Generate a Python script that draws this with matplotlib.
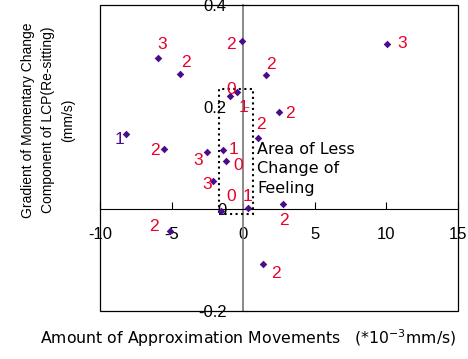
import matplotlib
matplotlib.use('Agg')
import matplotlib.pyplot as plt
from matplotlib.patches import Rectangle

plt.rcParams['font.family'] = ['Liberation Sans', 'DejaVu Sans']

# approximation movements (*10^-3 mm/s) and gradient (mm/s)
move_x = [-0.07, 10.01, -5.98, -4.43, 1.56, -0.89, -0.42, 2.53, 1.00, -8.15,
          -5.54, -2.56, -1.40, -1.21, -2.14, -1.52, 0.32, 2.79, -5.12, 1.37]
grad_y = [0.330, 0.324, 0.296, 0.265, 0.262, 0.221, 0.229, 0.191, 0.140, 0.148,
          0.118, 0.112, 0.116, 0.094, 0.054, -0.003, 0.002, 0.009, -0.043, -0.108]
change_level = ['2', '3', '3', '2', '2', '0', '1', '2', '2', '1',
                '2', '3', '1', '0', '3', '0', '1', '2', '2', '2']

# where each number sits relative to its point (pixels) and its colour
label_offsets = [(-11, -4), (16, 0), (5, 14), (6, 11), (5, 11), (1, 7), (6, -15),
                 (11, -2), (3, 13), (-7, -6), (-9, -2), (-8, -9), (10, 0), (12, -4),
                 (-5, -3), (10, 14), (0, 11), (1, -16), (-16, 4), (13, -9)]
label_colors = ['#E8002A'] * 20
label_colors[9] = '#4B0C8C'

xticks = [-10, -5, 0, 5, 10, 15]
yticks = [-0.2, 0, 0.2, 0.4]

fig = plt.figure(figsize=(4.68, 3.59), dpi=100)
ax = fig.add_axes([100 / 468, 48 / 359, 358 / 468, 306 / 359])

ax.scatter(move_x, grad_y, marker='D', s=15, color='#4B0C8C', zorder=5, linewidths=0)

for x, y, t, (dx, dy), c in zip(move_x, grad_y, change_level, label_offsets, label_colors):
    ax.annotate(t, (x, y), xytext=(dx, dy), textcoords='offset pixels',
                ha='center', va='center', fontsize=12.5, color=c, zorder=6)

ax.set_xlim(-10, 15)
ax.set_ylim(-0.2, 0.4)
ax.set_xticks(xticks)
ax.set_yticks(yticks)
ax.set_xticklabels([str(v) for v in xticks])
ax.set_yticklabels(['-0.2', '0', '0.2', '0.4'])

# axes crossing at the origin, plus an outer frame
ax.spines['left'].set_position(('data', 0))
ax.spines['bottom'].set_position(('data', 0))
ax.spines['left'].set_color('#808080')
ax.spines['left'].set_linewidth(1.3)
ax.spines['bottom'].set_color('black')
ax.spines['bottom'].set_linewidth(0.8)
ax.spines['top'].set_visible(False)
ax.spines['right'].set_visible(False)
ax.add_patch(Rectangle((0, 0), 1, 1, transform=ax.transAxes, fill=False,
                       edgecolor='black', linewidth=0.9, clip_on=False, zorder=4))

ax.tick_params(axis='x', direction='in', length=5, pad=13, labelsize=12, color='black')
ax.tick_params(axis='y', direction='in', length=4, pad=12, labelsize=12, color='#808080')

# area of less change of feeling
ax.add_patch(Rectangle((-1.72, -0.009), 2.37, 0.245, fill=False, edgecolor='black',
                       linestyle=':', linewidth=1.5, zorder=3))
ax.text(0.98, 0.132, 'Area of Less\nChange of\nFeeling', ha='left', va='top',
        fontsize=11.5, linespacing=1.4, family='DejaVu Sans')

ax.set_xlabel('Amount of Approximation Movements   (*10$^{-3}$mm/s)', fontsize=11.3,
              va='center', family='DejaVu Sans')
ax.xaxis.set_label_coords(0.415, -0.088)
ax.set_ylabel('Gradient of Momentary Change\nComponent of LCP(Re-sitting)\n(mm/s)',
              fontsize=10, va='center', ha='center', linespacing=1.55)
ax.yaxis.set_label_coords(-0.145, 0.624)

fig.savefig('out.png', dpi=100)
